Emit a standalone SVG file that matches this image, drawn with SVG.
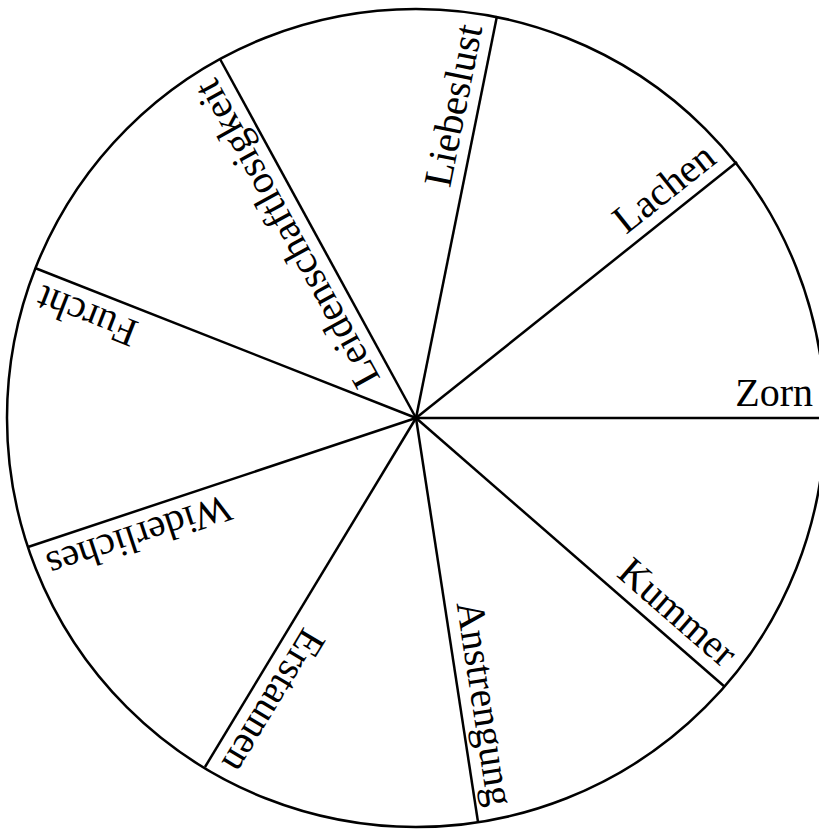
<svg xmlns="http://www.w3.org/2000/svg" width="819" height="829" viewBox="0 0 819 829">
<style>
.ln{stroke:#000;stroke-width:2.5;fill:none;stroke-linecap:butt}
.lb{font-family:"Liberation Serif","Times New Roman",serif;font-size:40px;fill:#000;text-anchor:end}
</style>
<rect width="819" height="829" fill="#fff"/>
<g id="wheel">
<circle class="ln" cx="416" cy="418" r="409"/>
</g>
<g id="connectors">
<line class="ln" x1="416" y1="418" x2="819" y2="418"/>
<line class="ln" x1="416" y1="418" x2="737" y2="162"/>
<line class="ln" x1="416" y1="418" x2="497" y2="16"/>
<line class="ln" x1="416" y1="418" x2="220" y2="59"/>
<line class="ln" x1="416" y1="418" x2="35" y2="268"/>
<line class="ln" x1="416" y1="418" x2="28" y2="547"/>
<line class="ln" x1="416" y1="418" x2="205" y2="767"/>
<line class="ln" x1="416" y1="418" x2="478" y2="822"/>
<line class="ln" x1="416" y1="418" x2="725" y2="687"/>
</g>
<g id="zorn"><text class="lb" transform="translate(416,418)" x="397" y="-12">Zorn</text></g>
<g id="lachen"><text class="lb" transform="translate(416,418) rotate(-38.57)" x="396" y="-12">Lachen</text></g>
<g id="liebeslust"><text class="lb" transform="translate(416,418) rotate(-78.6)" x="396" y="-12">Liebeslust</text></g>
<g id="leidenschaftlosigkeit"><text class="lb" transform="translate(416,418) rotate(-118.7)" x="396" y="-12">Leidenschaftlosigkeit</text></g>
<g id="furcht"><text class="lb" transform="translate(416,418) rotate(-158.6)" x="396" y="-12">Furcht</text></g>
<g id="widerliches"><text class="lb" transform="translate(416,418) rotate(-198.4)" x="396" y="-12">Widerliches</text></g>
<g id="erstaunen"><text class="lb" transform="translate(416,418) rotate(-238.8)" x="396" y="-12">Erstaunen</text></g>
<g id="anstrengung"><text class="lb" transform="translate(416,418) rotate(-278.7)" x="396" y="-12">Anstrengung</text></g>
<g id="kummer"><text class="lb" transform="translate(416,418) rotate(-319)" x="396" y="-12">Kummer</text></g>
</svg>
